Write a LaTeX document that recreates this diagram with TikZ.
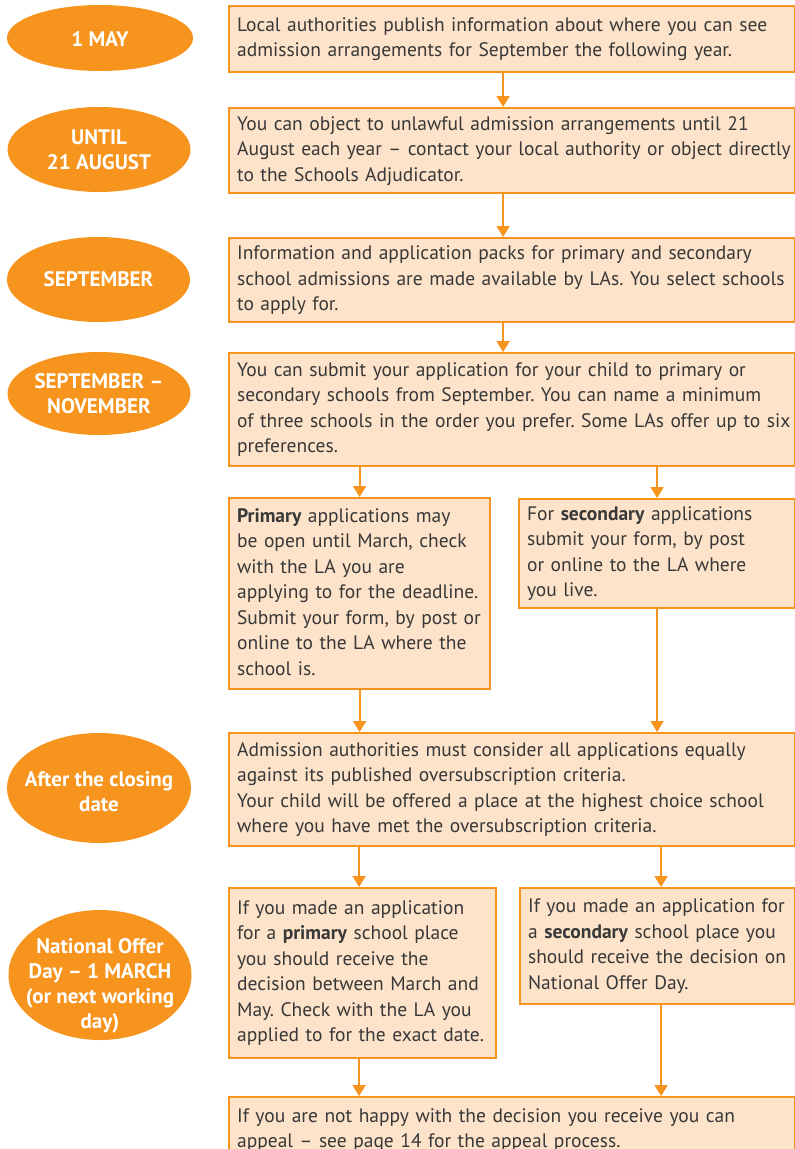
\documentclass[tikz,border=0pt]{standalone}
\usepackage{fontspec}
\setmainfont{PT Sans}
\usetikzlibrary{shapes.geometric,arrows.meta}
\definecolor{org}{HTML}{F7941E}
\definecolor{peach}{HTML}{FDE3C9}
\definecolor{txt}{HTML}{383838}
\frenchspacing
\begin{document}
\begin{tikzpicture}[x=1pt,y=-1pt,
  box/.style={draw=org, fill=peach, line width=2.2pt, rectangle, anchor=north west, inner xsep=8pt, inner ysep=0pt, text=txt, font=\fontsize{19.5}{25.5}\selectfont\frenchspacing, align=left},
  oval/.style={ellipse, fill=org, inner sep=0pt},
  ovaltxt/.style={text=white, font=\fontsize{21}{25}\selectfont\bfseries, align=center, inner sep=0pt},
  arr/.style={draw=org, line width=2pt, -{Triangle[width=13pt,length=11pt]}}
]
\useasboundingbox (0,0) rectangle (795,1149);
\fill[white] (0,0) rectangle (795,1149);

% left ovals
\node[oval, minimum width=186pt, minimum height=66pt] (e1) at (100,38) {};
\node[oval, minimum width=183pt, minimum height=85pt] (e2) at (99,149.5) {};
\node[oval, minimum width=183pt, minimum height=85pt] (e3) at (98.5,279.5) {};
\node[oval, minimum width=183pt, minimum height=83pt] (e4) at (99,393.5) {};
\node[oval, minimum width=184pt, minimum height=110pt] (e5) at (99,788) {};
\node[oval, minimum width=183pt, minimum height=130pt] (e6) at (100,975) {};
\node[ovaltxt] (t1) at ([yshift=-1.5pt]e1) {1 MAY};
\node[ovaltxt] (t2) at (e2) {UNTIL\\21 AUGUST};
\node[ovaltxt] (t3) at (e3) {SEPTEMBER};
\node[ovaltxt] (t4) at (e4) {SEPTEMBER –\\NOVEMBER};
\node[ovaltxt] (t5) at ([yshift=-4pt]e5) {After the closing\\date};
\node[ovaltxt] (t6) at ([yshift=-11pt]e6) {National Offer\\Day – 1 MARCH\\(or next working\\day)};

% boxes
\node[box, minimum width=566pt, minimum height=66pt, text width=550pt] (b1) at (228,5) {\begin{tabular}{@{}l@{}}Local authorities publish information about where you can see\\admission arrangements for September the following year.\end{tabular}};
\node[box, minimum width=566pt, minimum height=85pt, text width=550pt] (b2) at (228,107) {\begin{tabular}{@{}l@{}}You can object to unlawful admission arrangements until 21\\August each year – contact your local authority or object directly\\to the Schools Adjudicator.\end{tabular}};
\node[box, minimum width=566pt, minimum height=84pt, text width=550pt] (b3) at (228,237) {\begin{tabular}{@{}l@{}}Information and application packs for primary and secondary\\school admissions are made available by LAs. You select schools\\to apply for.\end{tabular}};
\node[box, minimum width=566pt, minimum height=113pt, text width=550pt] (b4) at (228,352) {\begin{tabular}{@{}l@{}}You can submit your application for your child to primary or\\secondary schools from September. You can name a minimum\\of three schools in the order you prefer. Some LAs offer up to six\\preferences.\end{tabular}};
\node[box, minimum width=261pt, minimum height=191pt, text width=245pt] (prim) at (228,497) {\begin{tabular}{@{}l@{}}\textbf{Primary} applications may\\be open until March, check\\with the LA you are\\applying to for the deadline.\\Submit your form, by post or\\online to the LA where the\\school is.\end{tabular}};
\node[box, minimum width=276pt, minimum height=109pt, text width=260pt] (sec) at (518,498) {\begin{tabular}{@{}l@{}}For \textbf{secondary} applications\\submit your form, by post\\or online to the LA where\\you live.\end{tabular}};
\node[box, minimum width=566pt, minimum height=113pt, text width=550pt] (adm) at (228,732) {\begin{tabular}{@{}l@{}}Admission authorities must consider all applications equally\\against its published oversubscription criteria.\\Your child will be offered a place at the highest choice school\\where you have met the oversubscription criteria.\end{tabular}};
\node[box, minimum width=267pt, minimum height=170pt, text width=251pt] (poff) at (228,887) {\begin{tabular}{@{}l@{}}If you made an application\\for a \textbf{primary} school place\\you should receive the\\decision between March and\\May. Check with the LA you\\applied to for the exact date.\end{tabular}};
\node[box, minimum width=275pt, minimum height=116pt, text width=259pt] (soff) at (519,887) {\begin{tabular}{@{}l@{}}If you made an application for\\a \textbf{secondary} school place you\\should receive the decision on\\National Offer Day.\end{tabular}};
\node[box, minimum width=566pt, minimum height=66pt, text width=550pt] (fin) at (228,1096) {\begin{tabular}{@{}l@{}}If you are not happy with the decision you receive you can\\appeal – see page 14 for the appeal process.\end{tabular}};

% arrows
\draw[arr] ([xshift=-9pt]b1.south) -- ([xshift=-9pt]b2.north);
\draw[arr] ([xshift=-9pt]b2.south) -- ([xshift=-9pt]b3.north);
\draw[arr] ([xshift=-9pt]b3.south) -- ([xshift=-9pt]b4.north);
\draw[arr] (b4.south -| prim.north) -- (prim.north);
\draw[arr] (b4.south -| sec.north) -- (sec.north);
\draw[arr] (prim.south) -- (prim.south |- adm.north);
\draw[arr] (sec.south) -- (sec.south |- adm.north);
\coordinate (pc) at ([xshift=-3.5pt]poff.north);
\coordinate (sc) at ([xshift=3.5pt]soff.north);
\draw[arr] (adm.south -| pc) -- (pc);
\draw[arr] (adm.south -| sc) -- (sc);
\draw[arr] (pc |- poff.south) -- (pc |- fin.north);
\draw[arr] (sc |- soff.south) -- (sc |- fin.north);
\end{tikzpicture}
\end{document}
